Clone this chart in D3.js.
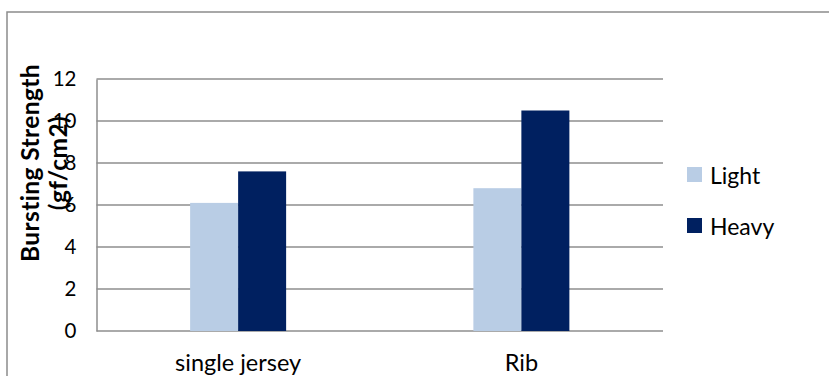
<!DOCTYPE html>
<html>
<head>
<meta charset="utf-8">
<script src="https://cdn.jsdelivr.net/npm/d3@7"></script>
<style>
  html, body { margin: 0; padding: 0; background: #fff; }
  svg { display: block; font-family: Lato, "Open Sans", sans-serif; }
</style>
</head>
<body>
<div id="chart"></div>
<script>
const categories = ["single jersey", "Rib"];
const series = ["Light", "Heavy"];
const lightValues = [6.1, 6.8];
const heavyValues = [7.6, 10.5];
const yTicks = [0, 2, 4, 6, 8, 10, 12];
const colors = ["#B9CDE5", "#002060"];

const width = 829;
const height = 376;
const margin = { top: 79, right: 166, bottom: 45, left: 96.5 };

const data = categories.map((c, i) => ({
  category: c,
  values: [lightValues[i], heavyValues[i]],
}));

const svg = d3
  .select("#chart")
  .append("svg")
  .attr("width", width)
  .attr("height", height);

// chart frame (right and bottom edges fall outside the picture)
svg
  .append("rect")
  .attr("x", 7)
  .attr("y", 12)
  .attr("width", 840)
  .attr("height", 400)
  .attr("fill", "none")
  .attr("stroke", "#8c8c8c")
  .attr("stroke-width", 1.5);

const x0 = d3
  .scaleBand()
  .domain(categories)
  .range([margin.left, width - margin.right])
  .padding(0);

const barW = 48;
const x1 = d3
  .scaleBand()
  .domain(series)
  .range([x0.bandwidth() / 2 - barW, x0.bandwidth() / 2 + barW]);

const y = d3
  .scaleLinear()
  .domain([0, 12])
  .range([height - margin.bottom, margin.top]);

// grid lines
svg
  .append("g")
  .selectAll("line")
  .data(yTicks)
  .join("line")
  .attr("x1", margin.left)
  .attr("x2", width - margin.right)
  .attr("y1", (d) => y(d))
  .attr("y2", (d) => y(d))
  .attr("stroke", "#8e8e8e")
  .attr("stroke-width", 1.5);

// bars
svg
  .append("g")
  .selectAll("g")
  .data(data)
  .join("g")
  .attr("transform", (d) => `translate(${x0(d.category)},0)`)
  .selectAll("rect")
  .data((d) => d.values.map((v, i) => ({ key: series[i], value: v, i })))
  .join("rect")
  .attr("x", (d) => x1(d.key))
  .attr("width", x1.bandwidth())
  .attr("y", (d) => y(d.value))
  .attr("height", (d) => y(0) - y(d.value))
  .attr("fill", (d) => colors[d.i]);

// y axis
const yAxisG = svg
  .append("g")
  .attr("transform", `translate(${margin.left},0)`)
  .call(d3.axisLeft(y).tickValues(yTicks).tickSize(0).tickPadding(20));
yAxisG.select(".domain").attr("stroke", "#8e8e8e").attr("stroke-width", 1.5);
yAxisG
  .selectAll(".tick text")
  .attr("font-size", 20.5)
  .attr("font-family", "Lato, sans-serif")
  .attr("fill", "#000");

// x axis labels
const xAxisG = svg
  .append("g")
  .attr("transform", `translate(0,${height - margin.bottom})`)
  .call(d3.axisBottom(x0).tickSize(0).tickPadding(23));
xAxisG.select(".domain").remove();
xAxisG
  .selectAll(".tick text")
  .attr("font-size", 23.5)
  .attr("font-family", "Lato, sans-serif")
  .attr("fill", "#000");

// y axis title (two lines)
const title = svg
  .append("text")
  .attr("transform", "translate(0,163)rotate(-90)")
  .attr("text-anchor", "middle")
  .attr("font-weight", "bold")
  .attr("font-size", 24.5)
  .attr("letter-spacing", 0.4)
  .attr("fill", "#000");
title.append("tspan").attr("x", 0).attr("y", 39).text("Bursting Strength");
title.append("tspan").attr("x", 0).attr("y", 67).text("(gf/cm2)");

// legend
const legend = svg
  .append("g")
  .selectAll("g")
  .data(series)
  .join("g")
  .attr("transform", (d, i) => `translate(687,${167 + i * 51})`);
legend
  .append("rect")
  .attr("width", 15)
  .attr("height", 15)
  .attr("fill", (d, i) => colors[i]);
legend
  .append("text")
  .attr("x", 23)
  .attr("y", 17)
  .attr("font-size", 23)
  .attr("fill", "#000")
  .text((d) => d);
</script>
</body>
</html>
